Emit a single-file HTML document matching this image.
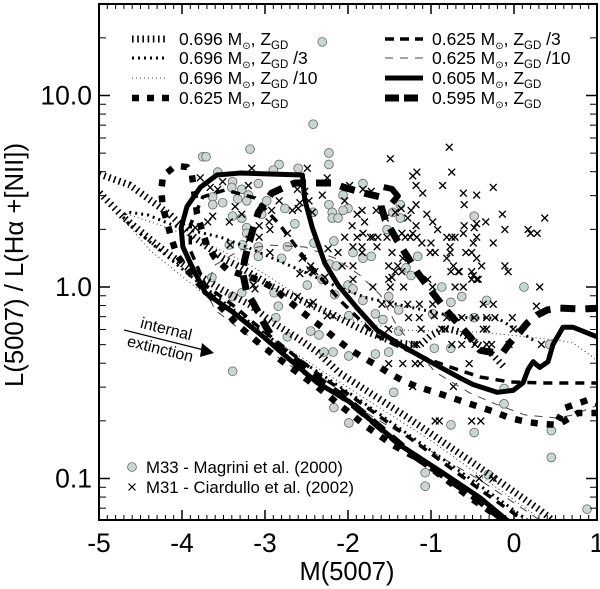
<!DOCTYPE html>
<html lang="en">
<head>
<meta charset="utf-8">
<title>L(5007) / L(Hα+[NII]) versus M(5007)</title>
<style>
html,body{margin:0;padding:0;background:#fff;width:600px;height:589px;overflow:hidden}
svg{display:block}
text{font-family:"Liberation Sans","DejaVu Sans",sans-serif;fill:#000}
</style>
</head>
<body>
<svg id="chart" width="600" height="589" viewBox="0 0 600 589" xmlns="http://www.w3.org/2000/svg">
<defs><clipPath id="plot-clip"><rect x="99" y="4" width="498" height="516"/></clipPath></defs>
<g id="points" clip-path="url(#plot-clip)"></g>
<g id="tracks" clip-path="url(#plot-clip)"></g>
<g id="axes"></g>
<rect x="99" y="4" width="498" height="516" fill="none" stroke="#000" stroke-width="2"/>

<g><text x="347" y="580" font-size="25.5" text-anchor="middle">M(5007)</text></g>
<g><text transform="translate(23,265) rotate(-90)" font-size="25.7" text-anchor="middle">L(5007) / L(Hα +[NII])</text></g>

<g>
<g><line x1="132" x2="168" y1="39" y2="39" stroke="#000" stroke-width="7" stroke-dasharray="1.6 3.6"/><text x="179" y="45" font-size="17.5">0.696 M<tspan font-size="10" dy="4">⊙</tspan><tspan dy="-4">, Z</tspan><tspan font-size="11.5" dy="4">GD</tspan></text></g>
<g><line x1="132" x2="168" y1="58" y2="58" stroke="#000" stroke-width="3" stroke-dasharray="2 4"/><text x="179" y="64" font-size="17.5">0.696 M<tspan font-size="10" dy="4">⊙</tspan><tspan dy="-4">, Z</tspan><tspan font-size="11.5" dy="4">GD</tspan><tspan dy="-4"> /3</tspan></text></g>
<g><line x1="132" x2="168" y1="78" y2="78" stroke="#333" stroke-width="1" stroke-dasharray="1 3"/><text x="179" y="84" font-size="17.5">0.696 M<tspan font-size="10" dy="4">⊙</tspan><tspan dy="-4">, Z</tspan><tspan font-size="11.5" dy="4">GD</tspan><tspan dy="-4"> /10</tspan></text></g>
<g><line x1="132" x2="170" y1="98" y2="98" stroke="#000" stroke-width="6.5" stroke-dasharray="7 8"/><text x="179" y="104" font-size="17.5">0.625 M<tspan font-size="10" dy="4">⊙</tspan><tspan dy="-4">, Z</tspan><tspan font-size="11.5" dy="4">GD</tspan></text></g>
<g><line x1="385" x2="423" y1="39" y2="39" stroke="#000" stroke-width="3.5" stroke-dasharray="9 6"/><text x="432" y="45" font-size="17.5">0.625 M<tspan font-size="10" dy="4">⊙</tspan><tspan dy="-4">, Z</tspan><tspan font-size="11.5" dy="4">GD</tspan><tspan dy="-4"> /3</tspan></text></g>
<g><line x1="385" x2="423" y1="58" y2="58" stroke="#444" stroke-width="1" stroke-dasharray="8 7"/><text x="432" y="64" font-size="17.5">0.625 M<tspan font-size="10" dy="4">⊙</tspan><tspan dy="-4">, Z</tspan><tspan font-size="11.5" dy="4">GD</tspan><tspan dy="-4"> /10</tspan></text></g>
<g><line x1="385" x2="423" y1="78" y2="78" stroke="#000" stroke-width="5"/><text x="432" y="84" font-size="17.5">0.605 M<tspan font-size="10" dy="4">⊙</tspan><tspan dy="-4">, Z</tspan><tspan font-size="11.5" dy="4">GD</tspan></text></g>
<g><line x1="385" x2="423" y1="98" y2="98" stroke="#000" stroke-width="7" stroke-dasharray="14 5"/><text x="432" y="104" font-size="17.5">0.595 M<tspan font-size="10" dy="4">⊙</tspan><tspan dy="-4">, Z</tspan><tspan font-size="11.5" dy="4">GD</tspan></text></g>
</g>

<g>
<g><circle cx="132" cy="467" r="4.4" fill="#c9d6d2" stroke="#666" stroke-width="0.8"/><text x="146" y="473" font-size="16.8">M33 - Magrini et al. (2000)</text></g>
<g><path d="M128.5 483.5L135.5 490.5M135.5 483.5L128.5 490.5" stroke="#000" stroke-width="1.2" fill="none"/><text x="146" y="493" font-size="16.8">M31 - Ciardullo et al. (2002)</text></g>
</g>

<g>
<line x1="124" y1="330" x2="204" y2="350" stroke="#000" stroke-width="1.3"/>
<polygon points="202,343 214,353 200,357" fill="#000"/>
<text transform="translate(165,334) rotate(14)" font-size="16" text-anchor="middle">internal</text>
<text transform="translate(159,354) rotate(14)" font-size="16" text-anchor="middle">extinction</text>
</g>
</svg>

<script>
// Data: M(5007) magnitudes and log10 of L(5007)/L(Ha+[NII]).
const xTickValues = [-5, -4, -3, -2, -1, 0, 1];
const xTickLabels = ['-5', '-4', '-3', '-2', '-1', '0', '1'];
const yTickValues = [-1, 0, 1];
const yTickLabels = ['0.1', '1.0', '10.0'];

const m33Mag = [-2.31,-2.42,-3.18,-3.75,-3.71,-2.23,-2.23,-2.83,-2.90,-2.60,-3.57,-3.39,-3.08,-3.40,-3.28,-3.63,-3.51,-3.63,-3.20,-3.33,-3.22,-2.98,-2.76,-2.23,-3.04,-3.39,-3.28,-2.19,-2.19,-2.12,-2.42,-2.64,-3.22,-3.22,-2.17,-3.43,-3.27,-3.08,-2.73,-3.08,-2.80,-2.41,-2.22,-2.14,-3.64,-3.14,-2.49,-2.31,-1.82,-2.06,-1.37,-2.00,-2.06,-1.46,-1.37,-0.48,-1.53,-1.94,-1.72,-1.82,-1.16,-1.30,-1.24,-0.87,-2.00,-1.94,-2.16,-1.51,-1.82,-0.63,-0.76,-1.39,-1.67,-0.98,-1.58,-1.99,-0.48,-0.33,-1.39,-0.96,-0.76,-1.51,-1.67,-1.99,-2.18,-1.45,-2.17,-1.99,-0.76,-0.48,-1.07,-1.07,-0.31,0.12,-0.12,-0.12,0.45,0.45,0.88,0.43,-3.39,-3.28,-3.39,-2.89,-2.84,-2.87,-2.73,-2.45,-2.35,-2.29];
const m33LogRatio = [1.28,0.85,0.72,0.68,0.68,0.70,0.64,0.64,0.61,0.62,0.60,0.55,0.54,0.52,0.51,0.47,0.44,0.43,0.48,0.46,0.45,0.45,0.41,0.43,0.38,0.37,0.36,0.39,0.36,0.36,0.39,0.33,0.31,0.28,0.24,0.22,0.22,0.21,0.21,0.16,0.15,0.23,0.12,0.11,0.05,0.04,0.01,0.04,0.54,0.48,0.43,0.41,0.40,0.39,0.36,0.37,0.30,0.18,0.16,0.15,0.16,0.10,0.06,0,0.01,-0.01,-0.04,-0.05,-0.07,-0.05,-0.08,-0.12,-0.14,-0.14,-0.17,-0.15,-0.16,-0.07,-0.23,-0.32,-0.32,-0.34,-0.35,-0.36,-0.34,-0.55,-0.63,-0.71,-0.72,-0.76,-0.97,-1.04,-0.98,0,-0.53,-0.61,-0.75,-0.89,-1.16,-0.30,-0.44,-0.03,-0.05,-0.03,-0.10,-0.16,-0.26,-0.23,-0.25,-0.34];

const m31Mag = [-3.16,-2.49,-3.78,-2.25,-3.20,-3.51,-3.66,-3.57,-2.31,-2.61,-2.52,-3.36,-2.83,-2.47,-2.58,-2.60,-2.67,-2.92,-2.43,-3.63,-3.69,-3.43,-2.95,-3.28,-2.94,-3.07,-2.73,-3.07,-3.19,-3.84,-3.42,-2.94,-2.55,-2.24,-2.45,-2.43,-2.58,-2.40,-2.28,-3.14,-0.78,-1.49,-1.17,-1.22,-0.75,-1.18,-0.86,-1.10,-0.61,-0.45,-0.60,-1.98,-1.82,-1.72,-2.04,-1.66,-1.83,-1.89,-1.80,-1.95,-1.18,-1.24,-1.36,-1.43,-1.05,-0.98,-0.92,-1.18,-1.28,-1.55,-0.60,-0.48,-0.45,-0.61,-0.45,-0.49,-1.82,-1.89,-2.04,-1.73,-1.70,-1.64,-1.53,-1.35,-1.31,-1.25,-1.22,-1.17,-1.11,-1.00,-0.81,-0.75,-0.71,-0.77,-0.77,-0.81,-0.73,-0.67,-0.76,-1.65,-1.83,-1.94,-2.12,-1.83,-1.47,-1.34,-1.01,-0.95,-0.58,-0.51,-0.45,-1.51,-1.40,-1.43,-1.35,-1.51,-1.47,-1.94,-2.07,-1.94,-1.70,-1.49,-1.33,-1.04,-0.51,-0.49,-0.51,-0.45,-0.71,-0.61,-0.98,-0.25,-0.14,0.37,-0.34,-0.11,0.17,0.20,0.28,-0.25,-0.39,-0.11,-0.07,-0.66,-0.43,0.31,0.27,-1.59,-1.49,-1.28,-1.14,-0.98,-0.37,-0.25,-1.27,-1.14,-0.96,-0.81,-0.63,-0.48,-0.33,-0.23,-0.02,-0.01,-1.51,-1.12,-0.87,-0.83,-0.37,-0.33,-1.20,-1.17,-0.75,-0.63,-0.47,-0.33,-0.27,-0.06,0.33,-1.51,-1.34,-1.19,-1.13,-0.54,-1.22,-0.73,-0.95,-0.90,-0.51,-0.40,-0.42,-0.25,-2.61,-2.42,-2.25,-2.18,-2.46,-3.12,-2.46];
const m31LogRatio = [0.62,0.62,0.57,0.57,0.53,0.55,0.52,0.51,0.48,0.51,0.50,0.42,0.45,0.45,0.44,0.41,0.40,0.40,0.39,0.37,0.34,0.34,0.34,0.38,0.30,0.32,0.28,0.26,0.25,0.31,0.22,0.18,0.15,0.20,0.11,0.08,0.07,0.08,0.05,0.01,0.73,0.67,0.60,0.58,0.60,0.53,0.53,0.49,0.49,0.48,0.43,0.53,0.51,0.50,0.45,0.40,0.40,0.38,0.34,0.32,0.43,0.40,0.41,0.39,0.38,0.34,0.30,0.32,0.36,0.36,0.32,0.31,0.33,0.28,0.26,0.23,0.28,0.26,0.26,0.26,0.26,0.26,0.26,0.28,0.26,0.26,0.28,0.26,0.23,0.23,0.26,0.26,0.26,0.21,0.18,0.15,0.11,0.08,0.08,0.21,0.21,0.21,0.18,0.18,0.18,0.15,0.18,0.18,0.18,0.18,0.15,0.11,0.11,0.08,0.08,0.04,0.05,0.11,0.11,0.04,0,0,0,0.04,0.08,0.06,0.04,0.04,0,0,0,0.52,0.38,0.36,0.34,0.30,0.30,0.28,0.28,0.23,0.11,0.11,0.08,0.08,0.04,0,-0.10,-0.09,-0.09,-0.09,-0.09,-0.09,-0.09,-0.09,-0.16,-0.16,-0.15,-0.16,-0.16,-0.16,-0.16,-0.16,-0.16,-0.22,-0.22,-0.22,-0.22,-0.22,-0.22,-0.22,-0.30,-0.30,-0.30,-0.30,-0.30,-0.30,-0.30,-0.30,-0.30,-0.40,-0.40,-0.40,-0.40,-0.40,-0.52,-0.52,-0.70,-0.70,-0.70,-0.70,-1.00,-1.00,-0.05,-0.08,-0.15,-0.15,-0.09,-0.01,0.09];

const track696GdMag = [-0.13,-0.29,-0.47,-0.65,-0.83,-1.01,-1.13,-1.41,-1.61,-1.82,-2.01,-2.18,-2.49,-2.90,-3.30,-3.51,-3.84,-4.14,-4.63,-5.00,-5.13,-5.00,-4.71,-4.27,-3.90,-3.51,-3.18,-2.90,-2.61,-2.37,-2.10,-1.29,-0.49,0.31,0.61];
const track696GdLog = [-0.413,-0.339,-0.287,-0.235,-0.214,-0.256,-0.303,-0.292,-0.261,-0.225,-0.183,-0.146,-0.084,0,0.104,0.151,0.256,0.376,0.533,0.59,0.559,0.496,0.366,0.209,0.089,-0.016,-0.094,-0.188,-0.266,-0.339,-0.449,-0.679,-0.919,-1.164,-1.269];
const track696Gd3Mag = [0.23,0.04,-0.20,-0.53,-0.81,-1.77,-2.10,-2.58,-3.22,-3.54,-4.02,-4.20,-4.41,-4.66,-4.72,-4.63,-4.27,-3.84,-3.30,-2.58,-1.86,-1.01,-0.17,0.19];
const track696Gd3Log = [-0.277,-0.225,-0.162,-0.162,-0.146,-0.057,-0.005,0.089,0.209,0.261,0.308,0.339,0.376,0.392,0.371,0.324,0.193,0.037,-0.146,-0.381,-0.59,-0.851,-1.112,-1.227];
const track696Gd10Mag = [1.04,0.95,0.71,0.52,0.16,-0.41,-1.37,-2.22,-3.18,-3.78,-4.27,-4.66,-4.72,-4.39,-3.72,-2.70,-1.86,-1.01,-0.17,0.25];
const track696Gd10Log = [-0.407,-0.366,-0.292,-0.277,-0.261,-0.235,-0.225,-0.146,0.115,0.245,0.324,0.381,0.36,0.193,-0.042,-0.329,-0.564,-0.799,-1.06,-1.19];
const track625GdMag = [0.07,-0.08,-0.49,-0.81,-1.13,-1.46,-1.77,-2.10,-2.37,-2.70,-3.02,-3.30,-3.58,-3.84,-3.96,-4.06,-4.13,-4.18,-4.23,-4.25,-4.23,-4.08,-3.94,-3.88,-3.82,-3.76,-3.70,-3.60,-3.45,-3.27,-3.08,-2.90,-2.76,-2.61,-2.46,-2.30,-2.16,-2.00,-1.83,-1.66,-1.51,-1.33,-1.16,-0.96,-0.78,-0.60,-0.23,-0.05,0.16,0.34,0.53,0.77,1.00,1.07,0.89,0.61,0.53];
const track625GdLog = [-1.258,-1.232,-1.112,-1.008,-0.903,-0.825,-0.731,-0.616,-0.522,-0.418,-0.313,-0.209,-0.084,0.037,0.104,0.167,0.256,0.339,0.413,0.501,0.58,0.632,0.627,0.585,0.386,0.298,0.219,0.151,0.089,0.063,0.037,-0.005,-0.057,-0.11,-0.162,-0.214,-0.266,-0.319,-0.366,-0.407,-0.449,-0.491,-0.522,-0.548,-0.574,-0.60,-0.653,-0.684,-0.705,-0.715,-0.72,-0.658,-0.658,-0.616,-0.59,-0.632,-0.695];
const track625Gd3Mag = [1.04,0.71,0.37,-0.05,-0.41,-0.77,-1.01,-1.43,-1.67,-2.10,-2.46,-2.82,-3.12,-3.48,-3.75,-3.90,-3.90,-3.72,-3.34,-3.18,-2.73,-2.30,-1.98,-1.61,-1.17,-0.73,-0.37,-0.01,0.19];
const track625Gd3Log = [-0.501,-0.501,-0.501,-0.496,-0.47,-0.418,-0.381,-0.303,-0.251,-0.068,0.115,0.324,0.465,0.507,0.47,0.324,0.193,0.01,-0.11,-0.172,-0.329,-0.475,-0.564,-0.679,-0.815,-0.956,-1.07,-1.18,-1.248];
const track625Gd10Mag = [1.04,0.95,0.71,0.52,0.13,-0.25,-0.53,-0.95,-1.25,-1.43,-1.61,-1.86,-2.16,-2.52,-2.94,-3.30,-3.60,-3.72,-3.60,-3.06,-2.58,-1.94,-1.13,-0.41,0.31];
const track625Gd10Log = [-0.616,-0.627,-0.668,-0.684,-0.668,-0.606,-0.554,-0.444,-0.292,-0.188,-0.042,0.063,0.151,0.209,0.219,0.193,0.115,-0.016,-0.12,-0.303,-0.444,-0.616,-0.825,-1.008,-1.217];
const track605GdMag = [1.04,1.00,0.71,0.59,0.47,0.41,0.31,0.23,0.17,0.11,-0.01,-0.20,-0.49,-0.65,-1.01,-1.34,-1.65,-1.89,-2.12,-2.28,-2.43,-2.52,-2.55,-3.30,-3.58,-3.78,-3.94,-4.01,-3.99,-3.90,-3.72,-3.39,-3.02,-2.70,-2.37,-1.98,-1.77,-1.34,-0.86,-0.41,-0.05];
const track605GdLog = [-0.27,-0.26,-0.21,-0.21,-0.30,-0.39,-0.42,-0.39,-0.43,-0.50,-0.54,-0.55,-0.51,-0.475,-0.39,-0.31,-0.225,-0.11,0.01,0.125,0.31,0.455,0.585,0.595,0.585,0.52,0.42,0.31,0.21,0.125,-0.03,-0.13,-0.26,-0.38,-0.50,-0.60,-0.68,-0.835,-0.97,-1.10,-1.23];
const track595GdMag = [1.04,0.83,0.55,0.40,0.28,0.16,0.07,-0.05,-0.13,-0.29,-0.41,-0.53,-0.80,-0.98,-1.16,-1.41,-1.55,-1.60,-1.61,-1.80,-2.06,-2.18,-2.64,-2.76,-2.92,-3.08,-3.14,-3.20,-3.24,-3.27,-3.22,-3.14,-3.00,-2.84,-2.58,-2.34,-1.98,-1.22,-0.77,-0.43,-0.05];
const track595GdLog = [-0.11,-0.115,-0.11,-0.12,-0.146,-0.188,-0.235,-0.292,-0.34,-0.34,-0.33,-0.26,-0.13,-0.03,0.073,0.245,0.35,0.418,0.47,0.49,0.522,0.543,0.543,0.522,0.49,0.39,0.308,0.22,0.15,0.078,-0.03,-0.084,-0.20,-0.313,-0.397,-0.486,-0.60,-0.877,-1.008,-1.112,-1.243];
const track595HookMag = [-1.57,-1.47,-1.40,-1.47];
const track595HookLog = [0.522,0.512,0.475,0.439];

function xScale(m) { return 99 + (m + 5) * 83; }
function yScale(logValue) { return 287 - logValue * 191.5; }

const NS = 'http://www.w3.org/2000/svg';
const pointsLayer = document.getElementById('points');
const tracksLayer = document.getElementById('tracks');
const axesLayer = document.getElementById('axes');

function make(tag, parent) {
  const el = document.createElementNS(NS, tag);
  parent.appendChild(el);
  return el;
}

m33Mag.forEach(function (m, i) {
  const c = make('circle', pointsLayer);
  
  
  c.setAttribute('cx', xScale(m));
  c.setAttribute('cy', yScale(m33LogRatio[i]));
  c.setAttribute('r', 4.4);
  c.setAttribute('fill', '#c9d6d2');
  c.setAttribute('stroke', '#666');
  c.setAttribute('stroke-width', 0.8);
});

m31Mag.forEach(function (m, i) {
  const x = xScale(m), y = yScale(m31LogRatio[i]);
  const p = make('path', pointsLayer);
  
  
  p.setAttribute('d', 'M' + (x - 3.4) + ' ' + (y - 3.4) + 'L' + (x + 3.4) + ' ' + (y + 3.4) + 'M' + (x + 3.4) + ' ' + (y - 3.4) + 'L' + (x - 3.4) + ' ' + (y + 3.4));
  p.setAttribute('stroke', '#000');
  p.setAttribute('stroke-width', 1.35);
  p.setAttribute('fill', 'none');
});

function drawTrack(name, mags, logs, color, width, dash) {
  const line = make('polyline', tracksLayer);
  
  
  line.setAttribute('points', mags.map(function (m, i) { return xScale(m) + ',' + yScale(logs[i]); }).join(' '));
  line.setAttribute('fill', 'none');
  line.setAttribute('stroke', color);
  line.setAttribute('stroke-width', width);
  line.setAttribute('stroke-linejoin', 'round');
  if (dash) line.setAttribute('stroke-dasharray', dash);
}

drawTrack('track-0.696-zgd-10', track696Gd10Mag, track696Gd10Log, '#333', 1, '1 3');
drawTrack('track-0.625-zgd-10', track625Gd10Mag, track625Gd10Log, '#444', 1, '8 7');
drawTrack('track-0.696-zgd-3', track696Gd3Mag, track696Gd3Log, '#000', 3, '2 4');
drawTrack('track-0.696-zgd', track696GdMag, track696GdLog, '#000', 7, '1.6 3.6');
drawTrack('track-0.625-zgd-3', track625Gd3Mag, track625Gd3Log, '#000', 3.5, '9 7');
drawTrack('track-0.625-zgd', track625GdMag, track625GdLog, '#000', 6.5, '7 9');
drawTrack('track-0.605-zgd', track605GdMag, track605GdLog, '#000', 5, null);
drawTrack('track-0.595-zgd', track595GdMag, track595GdLog, '#000', 7, '15 10');
drawTrack('track-0.595-zgd-hook', track595HookMag, track595HookLog, '#000', 6, null);

function drawTick(name, x1, y1, x2, y2, width) {
  const t = make('line', axesLayer);
  
  
  t.setAttribute('x1', x1);
  t.setAttribute('y1', y1);
  t.setAttribute('x2', x2);
  t.setAttribute('y2', y2);
  t.setAttribute('stroke', '#000');
  t.setAttribute('stroke-width', width);
}

function drawLabel(name, x, y, text, anchor) {
  const l = make('text', axesLayer);
  
  
  l.setAttribute('x', x);
  l.setAttribute('y', y);
  l.setAttribute('font-size', 26.5);
  l.setAttribute('text-anchor', anchor);
  l.textContent = text;
}

xTickValues.forEach(function (v, i) {
  const x = xScale(v);
  drawTick('x-tick-major-bottom', x, 520, x, 510, 1.5);
  drawTick('x-tick-major-top', x, 4, x, 14, 1.5);
  drawLabel('x-tick-label', x, 552, xTickLabels[i], 'middle');
  if (i < xTickValues.length - 1) {
    for (let k = 1; k < 10; k++) {
      const xm = xScale(v + k / 10);
      drawTick('x-tick-minor-bottom', xm, 520, xm, 515, 1);
      drawTick('x-tick-minor-top', xm, 4, xm, 9, 1);
    }
  }
});

yTickValues.forEach(function (v, i) {
  const y = yScale(v);
  drawTick('y-tick-major-left', 99, y, 110, y, 1.5);
  drawTick('y-tick-major-right', 597, y, 586, y, 1.5);
  drawLabel('y-tick-label', 92, y + 9, yTickLabels[i], 'end');
});

[-2, -1, 0, 1].forEach(function (decade) {
  for (let k = 2; k < 10; k++) {
    const y = yScale(decade + Math.log10(k));
    if (y < 5 || y > 519) continue;
    drawTick('y-tick-minor-left', 99, y, 106, y, 1);
    drawTick('y-tick-minor-right', 597, y, 590, y, 1);
  }
});
</script>
</body>
</html>
